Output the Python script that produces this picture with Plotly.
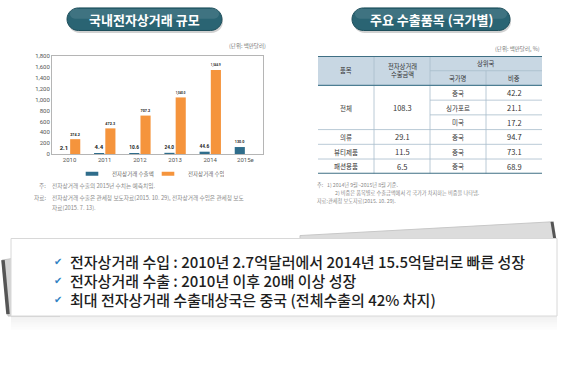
import plotly.graph_objects as go

W, H = 567, 372
FONT = "Noto Sans CJK KR"

# ---------------- data ----------------
years = ["2010", "2011", "2012", "2013", "2014", "2015e"]
export_vals = [2.1, 4.4, 10.6, 24.0, 44.6, 130.0]
import_vals = [274.2, 472.3, 707.2, 1040.0, 1544.9, None]
y_ticks = [0, 200, 400, 600, 800, 1000, 1200, 1400, 1600, 1800]
series_names = ["전자상거래 수출액", "전자상거래 수입액"]
series_colors = ["#2f6d8b", "#f5943c"]

items = ["전체", "의류", "뷰티제품", "패션용품"]
item_export = [108.3, 29.1, 11.5, 6.5]
item_country_count = [3, 1, 1, 1]
countries = ["중국", "싱가포르", "미국", "중국", "중국", "중국"]
shares = [42.2, 21.1, 17.2, 94.7, 73.1, 68.9]
col_headers = ["품목", "전자상거래<br>수출금액", "상위국", "국가명", "비중"]

summary_lines = [
    "전자상거래 수입 : 2010년 2.7억달러에서 2014년 15.5억달러로 빠른 성장",
    "전자상거래 수출 : 2010년 이후 20배 이상 성장",
    "최대 전자상거래 수출대상국은 중국 (전체수출의 42% 차지)",
]


def px(x):
    return x / W


def py(y):
    return 1 - y / H


def P(x, y):
    return f"{px(x):.5f},{py(y):.5f}"


def pill_path(x0, y0, x1, y1):
    r = (y1 - y0) / 2
    cy = (y0 + y1) / 2
    k = 0.5523 * r
    return (f"M{P(x0 + r, y0)} L{P(x1 - r, y0)} "
            f"C{P(x1 - r + k, y0)} {P(x1, cy - k)} {P(x1, cy)} "
            f"C{P(x1, cy + k)} {P(x1 - r + k, y1)} {P(x1 - r, y1)} "
            f"L{P(x0 + r, y1)} "
            f"C{P(x0 + r - k, y1)} {P(x0, cy + k)} {P(x0, cy)} "
            f"C{P(x0, cy - k)} {P(x0 + r - k, y0)} {P(x0 + r, y0)} Z")


fig = go.Figure()

for vals, name, col in zip([export_vals, import_vals], series_names, series_colors):
    fig.add_trace(go.Bar(
        x=years, y=vals, name=name, showlegend=False,
        marker=dict(color=col, line=dict(width=0)),
        texttemplate="%{y:,.1f}", textposition="outside",
        textfont=dict(size=6, color="#222", family="Roboto", weight="bold"),
        cliponaxis=False,
    ))
# legend-only entries with thin rectangular swatches
for name, col in zip(series_names, series_colors):
    fig.add_trace(go.Scatter(
        x=[None], y=[None], mode="markers", name=name, showlegend=True,
        marker=dict(symbol="line-ew", size=9, color=col, line=dict(color=col, width=4)),
    ))

shapes = []
ann = []

# ---------- title pills ----------
for (x0, x1, title) in [(67, 222, "국내전자상거래 규모"), (352, 510, "주요 수출품목 (국가별)")]:
    shapes.append(dict(type="path", xref="paper", yref="paper",
                       path=pill_path(x0 + 1, 6, x1 + 1, 29.5),
                       fillcolor="rgba(0,0,0,0.18)", line=dict(width=0), layer="below"))
    shapes.append(dict(type="path", xref="paper", yref="paper",
                       path=pill_path(x0, 4, x1, 27),
                       fillcolor="#2a6473", line=dict(color="#1d4e5b", width=1), layer="below"))
    shapes.append(dict(type="path", xref="paper", yref="paper",
                       path=pill_path(x0 + 3, 5, x1 - 3, 15),
                       fillcolor="rgba(255,255,255,0.10)", line=dict(width=0), layer="below"))
    ann.append(dict(x=px((x0 + x1) / 2), y=py(15.5), xref="paper", yref="paper",
                    text=title, showarrow=False, xanchor="center", yanchor="middle",
                    font=dict(family=FONT, size=13, color="white", weight="bold")))

# ---------- chart texts ----------
ann.append(dict(x=px(268), y=py(43), xref="paper", yref="paper", text="(단위: 백만달러)",
                showarrow=False, xanchor="right", yanchor="middle",
                font=dict(family=FONT, size=5.5, color="#777")))
foot_l = [
    (185, "주:", "전자상거래 수출의 2015년 수치는 예측치임."),
    (197, "자료:", "전자상거래 수출은 관세청 보도자료(2015. 10. 29), 전자상거래 수입은 관세청 보도"),
    (207, "", "자료(2015. 7. 13)."),
]
for yy, lab, txt in foot_l:
    if lab:
        ann.append(dict(x=px(48), y=py(yy), xref="paper", yref="paper", text=lab,
                        showarrow=False, xanchor="right", yanchor="middle",
                        font=dict(family=FONT, size=5.7, color="#8a8a8a")))
    ann.append(dict(x=px(50), y=py(yy), xref="paper", yref="paper", text=txt,
                    showarrow=False, xanchor="left", yanchor="middle",
                    font=dict(family=FONT, size=5.7, color="#8a8a8a")))

# ---------- table (drawn on its own axes x2/y2) ----------
ncols = 4
nrows = 2 + len(countries)
T = dict(xref="x2", yref="y2")
shapes.append(dict(type="rect", x0=0, x1=ncols, y0=0, y1=2, fillcolor="#c8d7e3",
                   line=dict(width=0), layer="below", **T))
body_line = dict(color="#a8bccb", width=0.8)
shapes.append(dict(type="line", x0=1, x1=1, y0=0, y1=nrows, line=body_line, **T))
shapes.append(dict(type="line", x0=2, x1=2, y0=0, y1=nrows, line=body_line, **T))
shapes.append(dict(type="line", x0=3, x1=3, y0=1, y1=nrows, line=body_line, **T))
shapes.append(dict(type="line", x0=2, x1=4, y0=1, y1=1, line=body_line, **T))
row = 2
for cnt in item_country_count:
    for j in range(1, cnt):
        shapes.append(dict(type="line", x0=2, x1=4, y0=row + j, y1=row + j, line=body_line, **T))
    row += cnt
    if row < nrows:
        shapes.append(dict(type="line", x0=0, x1=4, y0=row, y1=row, line=body_line, **T))
shapes.append(dict(type="line", x0=0, x1=4, y0=2, y1=2, line=dict(color="#4d7e93", width=1.3), **T))
shapes.append(dict(type="line", x0=0, x1=4, y0=0, y1=0, line=dict(color="#3f6f84", width=2), **T))
shapes.append(dict(type="line", x0=0, x1=4, y0=nrows, y1=nrows, line=dict(color="#3f6f84", width=2), **T))

hfont = dict(family=FONT, size=6.3, color="#333")
bfont = dict(family=FONT, size=7.5, color="#333")
kfont = dict(family=FONT, size=6.5, color="#333")
hdr_pos = [(0.5, 1), (1.5, 1.0), (3, 0.5), (2.5, 1.5), (3.5, 1.5)]
for (hx, hy), h in zip(hdr_pos, col_headers):
    ann.append(dict(x=hx, y=hy, text=h, showarrow=False, xanchor="center", yanchor="middle",
                    font=hfont, **T))
row = 2
for it, amt, cnt in zip(items, item_export, item_country_count):
    cy = row + cnt / 2
    ann.append(dict(x=0.5, y=cy, text=it, showarrow=False, font=kfont, **T))
    ann.append(dict(x=1.5, y=cy, text=f"{amt:.1f}", showarrow=False, font=bfont, **T))
    row += cnt
for i, (c, s) in enumerate(zip(countries, shares)):
    ann.append(dict(x=2.5, y=2.5 + i, text=c, showarrow=False, font=kfont, **T))
    ann.append(dict(x=3.5, y=2.5 + i, text=f"{s:.1f}", showarrow=False, font=bfont, **T))

ann.append(dict(x=px(542), y=py(46), xref="paper", yref="paper", text="(단위: 백만달러, %)",
                showarrow=False, xanchor="right", yanchor="middle",
                font=dict(family=FONT, size=5.5, color="#777")))
foot_r = [
    (184.5, 315, "주:", 325, "1) 2014년 9월~2015년 8월 기준."),
    (192.5, None, "", 333, "2) 비중은 품목별로 수출금액에서 각 국가가 차지하는 비중을 나타냄."),
    (200.5, 315, "자료:", 326, "관세청 보도자료(2015. 10. 29)."),
]
for yy, lx, lab, tx, txt in foot_r:
    if lab:
        ann.append(dict(x=px(lx), y=py(yy), xref="paper", yref="paper", text=lab,
                        showarrow=False, xanchor="left", yanchor="middle",
                        font=dict(family=FONT, size=5.2, color="#8a8a8a")))
    ann.append(dict(x=px(tx), y=py(yy), xref="paper", yref="paper", text=txt,
                    showarrow=False, xanchor="left", yanchor="middle",
                    font=dict(family=FONT, size=5.2, color="#8a8a8a")))

# ---------- bottom summary sheets ----------
shapes.append(dict(type="path", xref="paper", yref="paper",
                   path=f"M{P(300, 236)} L{P(552, 222)} L{P(556, 244)} L{P(300, 244)} Z",
                   fillcolor="#dcdcdc", line=dict(color="#c8c8c8", width=1), layer="below"))
shapes.append(dict(type="line", xref="paper", yref="paper", x0=px(552), y0=py(222), x1=px(555), y1=py(241),
                   line=dict(color="#555", width=3), layer="below"))
shapes.append(dict(type="path", xref="paper", yref="paper",
                   path=f"M{P(2, 261)} L{P(60, 252)} L{P(60, 318)} L{P(8, 318)} Z",
                   fillcolor="#d4d4d4", line=dict(color="#c4c4c4", width=1), layer="below"))
shapes.append(dict(type="line", xref="paper", yref="paper", x0=px(3), y0=py(261), x1=px(8), y1=py(316),
                   line=dict(color="#555", width=3.5), layer="below"))
for i in range(8):
    yy = 316 + i * 2
    shapes.append(dict(type="rect", xref="paper", yref="paper",
                       x0=px(11), x1=px(557), y0=py(yy), y1=py(yy + 2),
                       fillcolor=f"rgba(0,0,0,{0.06 - i * 0.007:.3f})", line=dict(width=0), layer="below"))
shapes.append(dict(type="rect", xref="paper", yref="paper",
                   x0=px(11), x1=px(557), y0=py(239), y1=py(318),
                   fillcolor="white", line=dict(color="#d8d8d8", width=1), layer="below"))

line_y = [262, 282, 301]
for yy, txt in zip(line_y, summary_lines):
    ann.append(dict(x=px(58), y=py(yy), xref="paper", yref="paper", text="✔",
                    showarrow=False, xanchor="center", yanchor="middle",
                    font=dict(family="DejaVu Sans", size=10, color="#2f82c4")))
    ann.append(dict(x=px(68), y=py(yy), xref="paper", yref="paper", text=txt,
                    showarrow=False, xanchor="left", yanchor="middle",
                    font=dict(family=FONT, size=15, color="#1e1e1e", weight=500)))

fig.update_layout(
    width=W, height=H, autosize=False,
    margin=dict(l=0, r=0, t=0, b=0),
    paper_bgcolor="white", plot_bgcolor="white",
    barmode="group", bargap=0.36, bargroupgap=0.1,
    font=dict(family=FONT, color="#555"),
    showlegend=True,
    legend=dict(orientation="h", x=px(72), y=py(173), xanchor="left", yanchor="middle",
                font=dict(family=FONT, size=5.5, color="#666"),
                entrywidth=31, entrywidthmode="pixels", itemwidth=30,
                bgcolor="rgba(0,0,0,0)"),
    xaxis=dict(domain=[px(52), px(263)], anchor="y", showline=True, mirror=True,
               linecolor="#b5b5b5", linewidth=1, ticks="", showgrid=False,
               tickfont=dict(family="Roboto", size=6, color="#555")),
    yaxis=dict(domain=[py(153), py(53)], anchor="x", range=[0, 1800], tickvals=y_ticks,
               tickformat=",", showline=True, mirror=True, linecolor="#b5b5b5", linewidth=1,
               showgrid=False, zeroline=False, ticks="",
               tickfont=dict(family="Roboto", size=6, color="#555")),
    xaxis2=dict(domain=[px(318), px(542)], anchor="y2", range=[0, ncols], visible=False,
                fixedrange=True),
    yaxis2=dict(domain=[py(173), py(53)], anchor="x2", range=[nrows, 0], visible=False,
                fixedrange=True),
    shapes=shapes,
    annotations=ann,
)

fig.write_html("out.html", config={"displayModeBar": False},
               post_script="document.body.style.margin='0';")
